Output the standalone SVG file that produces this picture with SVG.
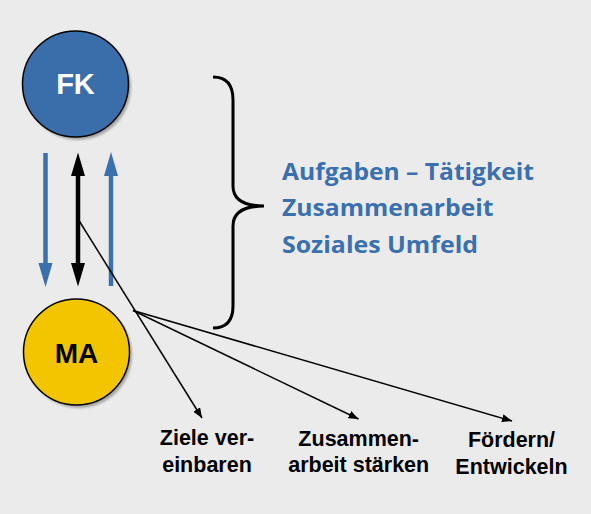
<svg xmlns="http://www.w3.org/2000/svg" width="591" height="514" viewBox="0 0 591 514">
<defs>
<style>
.bg{fill:#EBEBEB}
.node{stroke:#000;stroke-width:1.5}
.shadow{fill:#8a8a8a;opacity:0.7}
.lbl{font-family:"Liberation Sans",Arial,sans-serif;font-weight:bold;text-anchor:middle}
.blue{font-family:"Open Sans","Noto Sans",sans-serif;font-weight:bold;fill:#3A70AE;font-size:24px}
.thin{stroke:#000;stroke-width:1.5;fill:none;marker-end:url(#ah)}
.fat-blue{stroke:#3A70AE;stroke-width:4.5}
.fat-black{stroke:#000;stroke-width:4.5}
</style>
<marker id="ah" markerUnits="userSpaceOnUse" markerWidth="10" markerHeight="8" refX="10" refY="4" orient="auto">
<path d="M0,0 L10,4 L0,8 z" fill="#000"/>
</marker>
<filter id="blur" x="-20%" y="-20%" width="140%" height="140%"><feGaussianBlur stdDeviation="1"/></filter>
</defs>
<rect class="bg" x="0" y="0" width="591" height="514"/>
<g id="FK">
<circle class="shadow" cx="78" cy="87" r="53" filter="url(#blur)"/>
<circle class="node" cx="75.5" cy="84" r="53" fill="#3A6EAA"/>
<text class="lbl" x="75.5" y="94" font-size="29" fill="#fff">FK</text>
</g>
<g id="MA">
<circle class="shadow" cx="79" cy="355" r="53" filter="url(#blur)"/>
<circle class="node" cx="76.5" cy="352" r="53" fill="#F2C500"/>
<text class="lbl" x="76.5" y="362.5" font-size="28" fill="#000">MA</text>
</g>
<g id="connectors">
<line class="fat-blue" x1="45.5" y1="153" x2="45.5" y2="264"/>
<polygon points="38.5,263 52.5,263 45.5,287" fill="#3A70AE"/>
<line class="fat-black" x1="78" y1="175" x2="78" y2="264"/>
<polygon points="71,176 85,176 78,152.5" fill="#000"/>
<polygon points="71,263 85,263 78,286.5" fill="#000"/>
<line class="fat-blue" x1="111" y1="175" x2="111" y2="286"/>
<polygon points="104,176 118,176 111,152" fill="#3A70AE"/>
<line class="thin" x1="78" y1="219" x2="202" y2="418"/>
<line class="thin" x1="133" y1="310.5" x2="358.5" y2="419"/>
<line class="thin" x1="133" y1="310.5" x2="512" y2="421"/>
</g>
<g id="brace">
<path d="M213,77 Q233,77 233,100 L233,186 Q233,206 264,206 Q233,206 233,226 L233,306 Q233,328 213,328" fill="none" stroke="#000" stroke-width="3"/>
</g>
<g id="topics">
<text class="blue" x="282" y="179.5" textLength="252" lengthAdjust="spacingAndGlyphs">Aufgaben – Tätigkeit</text>
<text class="blue" x="282" y="216" textLength="211.5" lengthAdjust="spacingAndGlyphs">Zusammenarbeit</text>
<text class="blue" x="282" y="252.5" textLength="196" lengthAdjust="spacingAndGlyphs">Soziales Umfeld</text>
</g>
<g id="label-ziele">
<text class="lbl" x="207" y="445" font-size="21.5">Ziele ver-</text>
<text class="lbl" x="207" y="471.5" font-size="21.5">einbaren</text>
</g>
<g id="label-zusammenarbeit">
<text class="lbl" x="358.7" y="445.5" font-size="21.5">Zusammen-</text>
<text class="lbl" x="358.7" y="472" font-size="21.5">arbeit stärken</text>
</g>
<g id="label-foerdern">
<text class="lbl" x="511.5" y="447" font-size="21.5">Fördern/</text>
<text class="lbl" x="511.5" y="474" font-size="21.5">Entwickeln</text>
</g>
</svg>
